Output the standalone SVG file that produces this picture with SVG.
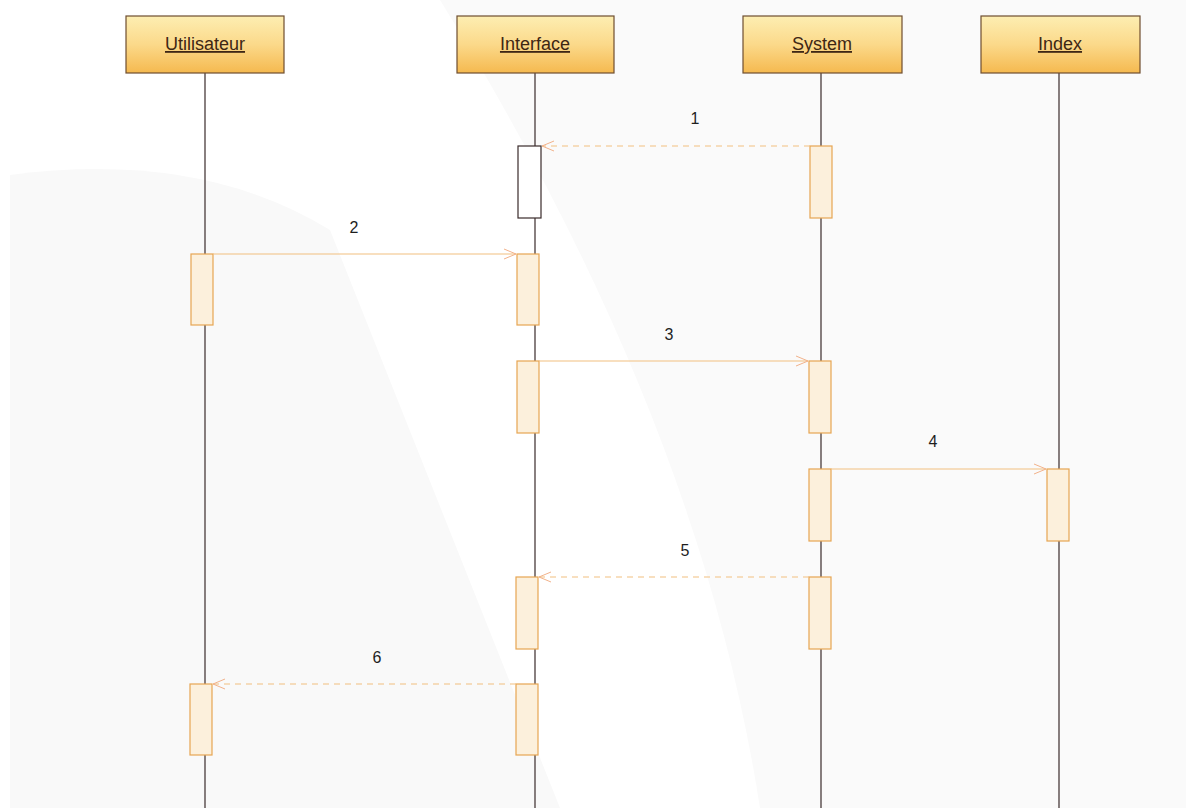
<svg xmlns="http://www.w3.org/2000/svg" width="1186" height="808" viewBox="0 0 1186 808">
<defs>
<linearGradient id="hdr" x1="0" y1="0" x2="0" y2="1">
<stop offset="0" stop-color="#fdeeb2"/>
<stop offset="0.5" stop-color="#fbd98a"/>
<stop offset="1" stop-color="#f5b94f"/>
</linearGradient>
<marker id="arr" markerWidth="14" markerHeight="12" refX="13" refY="6" orient="auto" markerUnits="userSpaceOnUse">
<path d="M1,1 L13,6 L1,11" fill="none" stroke="#f2b28a" stroke-width="1"/>
</marker>
<style>
.hdr{fill:url(#hdr);stroke:#6e4e30;stroke-width:1.2}
.hdrt{font-family:"Liberation Sans",Arial,sans-serif;font-size:18px;fill:#3e2614;text-anchor:middle;text-decoration:underline}
.life{stroke:#3a2b2b;stroke-width:1.2}
.act{fill:#fcf0dc;stroke:#e6a552;stroke-width:1.2}
.act0{fill:#ffffff;stroke:#3a2b2b;stroke-width:1.2}
.msg{stroke:#f2bf80;stroke-width:1.2;fill:none;marker-end:url(#arr)}
.ret{stroke:#f2bf80;stroke-width:1.2;fill:none;stroke-dasharray:6 5;marker-end:url(#arr)}
.lbl{font-family:"Liberation Sans",Arial,sans-serif;font-size:16px;fill:#1e1e1e;text-anchor:middle}
</style>
</defs>
<rect width="1186" height="808" fill="#ffffff"/>
<g id="background">
<path d="M10,175 Q200,150 330,230 L560,808 L10,808 Z" fill="#f9f9f9"/>
<path d="M440,0 L1186,0 L1186,808 L760,808 Q700,420 440,0 Z" fill="#fafafa"/>
</g>
<g id="lifelines">
<line class="life" x1="205" y1="73" x2="205" y2="808"/>
<line class="life" x1="535" y1="73" x2="535" y2="808"/>
<line class="life" x1="821" y1="73" x2="821" y2="808"/>
<line class="life" x1="1059" y1="73" x2="1059" y2="808"/>
</g>
<g id="utilisateur">
<rect class="hdr" x="126" y="16" width="158" height="57"/>
<text class="hdrt" x="205" y="50">Utilisateur</text>
</g>
<g id="interface">
<rect class="hdr" x="457" y="16" width="157" height="57"/>
<text class="hdrt" x="535" y="50">Interface</text>
</g>
<g id="system">
<rect class="hdr" x="743" y="16" width="159" height="57"/>
<text class="hdrt" x="822" y="50">System</text>
</g>
<g id="index">
<rect class="hdr" x="981" y="16" width="159" height="57"/>
<text class="hdrt" x="1060" y="50">Index</text>
</g>
<g id="activations">
<rect class="act0" x="518" y="146" width="23" height="72"/>
<rect class="act" x="810" y="146" width="22" height="72"/>
<rect class="act" x="191" y="254" width="22" height="71"/>
<rect class="act" x="517" y="254" width="22" height="71"/>
<rect class="act" x="517" y="361" width="22" height="72"/>
<rect class="act" x="809" y="361" width="22" height="72"/>
<rect class="act" x="809" y="469" width="22" height="72"/>
<rect class="act" x="1047" y="469" width="22" height="72"/>
<rect class="act" x="516" y="577" width="22" height="72"/>
<rect class="act" x="809" y="577" width="22" height="72"/>
<rect class="act" x="190" y="684" width="22" height="71"/>
<rect class="act" x="516" y="684" width="22" height="71"/>
</g>
<g id="connectors">
<line class="ret" x1="810" y1="146" x2="542" y2="146"/>
<line class="msg" x1="213" y1="254" x2="516" y2="254"/>
<line class="msg" x1="539" y1="361" x2="808" y2="361"/>
<line class="msg" x1="831" y1="469" x2="1046" y2="469"/>
<line class="ret" x1="809" y1="577" x2="539" y2="577"/>
<line class="ret" x1="516" y1="684" x2="213" y2="684"/>
</g>
<g id="labels">
<text class="lbl" x="695" y="124">1</text>
<text class="lbl" x="354" y="233">2</text>
<text class="lbl" x="669" y="340">3</text>
<text class="lbl" x="933" y="447">4</text>
<text class="lbl" x="685" y="556">5</text>
<text class="lbl" x="377" y="663">6</text>
</g>
</svg>
